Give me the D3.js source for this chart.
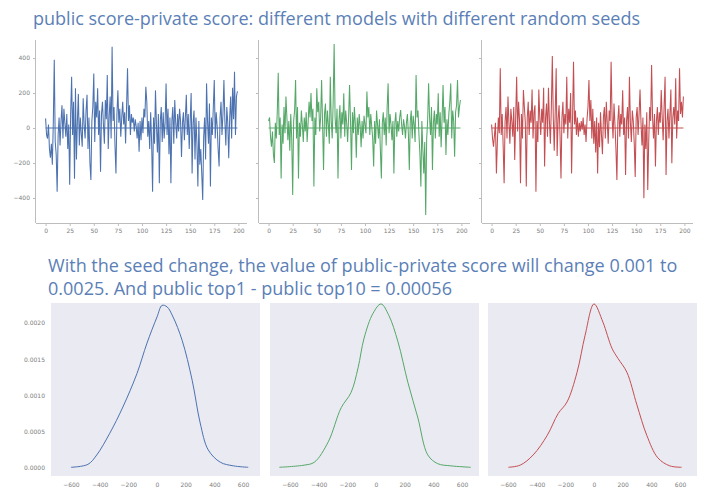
<!DOCTYPE html>
<html>
<head>
<meta charset="utf-8">
<script src="https://cdn.jsdelivr.net/npm/d3@7"></script>
<style>
  body { margin: 0; background: #fff; }
  svg { display: block; }
  .tick text { font-family: "DejaVu Sans", sans-serif; }
</style>
</head>
<body>
<div id="container"></div>
<script>
// public - private score per run, 3 models
var blueDiff = [55,-40,-60,20,-120,-170,-90,-210,30,390,-80,-150,-365,-40,60,-100,40,130,-60,110,
  30,-50,80,-120,20,-325,80,293,-40,150,-290,227,-180,40,195,-100,60,-30,-107,170,
  20,-60,100,190,-120,60,-200,-297,40,120,312,-80,150,60,227,-40,100,-250,80,150,
  20,-90,160,50,303,-120,70,180,-60,465,40,120,-100,-260,80,215,30,110,-50,60,
  150,20,90,-88,120,341,40,130,-40,80,30,60,-20,50,10,-60,30,-135,40,-70,
  60,-30,110,60,236,150,-50,40,-120,90,-80,-364,60,-90,215,20,-140,80,-316,40,
  120,-80,90,-60,30,255,-40,110,-150,60,-316,40,120,-90,160,30,-60,80,-20,110,
  40,-165,30,90,-70,60,190,-40,80,-120,40,200,-260,30,100,-180,60,-90,-335,40,
  -210,-120,-260,-411,-50,60,-180,255,40,-90,140,-335,60,-40,120,274,-60,90,10,-120,
  -220,60,150,-40,80,274,40,-100,120,30,-173,60,180,-60,230,50,322,-40,180,210];
var greenDiff = [40,60,-50,-107,-20,-150,-200,30,-60,90,316,-40,60,-288,20,-90,120,-30,180,60,
  -70,40,-130,80,-60,-383,40,100,274,-60,120,-288,30,-50,100,20,-80,60,-20,90,
  -80,30,150,60,200,40,110,-335,60,-40,227,90,150,-20,60,274,30,-240,80,140,
  -50,100,20,-90,293,40,-60,150,480,60,-30,110,-288,40,130,-60,90,20,198,-50,
  100,30,-80,60,245,40,-240,90,-30,120,20,-170,60,-40,80,10,-110,40,-60,70,
  20,-30,208,60,120,-40,80,10,-60,-220,40,-90,100,20,-60,50,-130,-288,30,90,
  -40,60,-100,120,255,-30,80,20,-70,40,-260,30,90,-50,40,-20,60,103,20,-40,
  50,10,-60,30,80,-30,-240,40,100,-60,70,20,-80,303,60,100,-40,-150,-335,40,
  -120,-260,-80,-497,-60,40,255,60,-40,120,-240,30,100,-60,80,20,198,-50,90,-110,
  60,245,30,120,-154,50,-40,80,150,255,-60,100,40,-164,90,130,274,60,120,160];
var redDiff = [20,-60,-107,-40,30,-260,-80,60,-30,341,-40,80,-100,-316,40,120,-60,180,30,-90,
  110,40,-50,120,-183,60,293,-20,150,40,-316,80,-60,217,120,30,-335,60,150,-40,
  100,30,220,-60,90,130,-364,40,-80,220,60,-40,110,30,230,-220,60,140,-50,230,
  40,-90,120,411,60,-130,90,341,-160,50,130,-40,-288,60,150,-30,80,20,293,-60,
  110,30,200,-260,60,379,20,100,-40,60,-50,30,-20,40,-10,60,-40,20,-80,50,
  120,274,40,160,-60,110,-90,40,-140,60,-260,30,-110,90,-40,-150,60,120,-60,150,
  30,-90,100,40,379,60,-60,140,20,-120,-297,40,130,-50,80,20,215,-40,60,-269,
  40,120,-60,293,30,-80,100,40,-90,-280,60,120,-40,80,220,30,-100,60,-402,20,
  -120,90,-354,-80,120,40,360,60,-60,80,-220,40,120,-40,90,30,217,60,-70,130,
  293,-269,40,110,-60,80,220,-202,60,120,20,284,-60,100,40,341,80,150,60,180];

// kernel density curves of the same scores
var kdeBlueX  = [-600,-482,-420,-329,-238,-140,-70,0,35,70,112,175,245,301,357,441,532,636];
var kdeBlueY  = [0.00001,0.00005,0.00018,0.00048,0.00084,0.0013,0.00172,0.00208,0.00224,0.00222,0.00208,0.00176,0.00121,0.00062,0.00025,0.00008,0.00003,0.00001];
var kdeGreenX = [-674,-500,-430,-333,-243,-174,-125,-83,-21,35,90,153,222,292,361,430,521,660];
var kdeGreenY = [0.00001,0.00004,0.00008,0.00036,0.00083,0.00104,0.00138,0.00179,0.00213,0.00226,0.0021,0.00174,0.00118,0.00069,0.00018,0.00006,0.00003,0.00001];
var kdeRedX   = [-597,-514,-424,-326,-250,-188,-118,-62,0,62,125,167,229,299,368,445,528,611];
var kdeRedY   = [0.00001,0.00004,0.00018,0.00045,0.00075,0.00091,0.00132,0.00183,0.00226,0.00201,0.00165,0.00151,0.00132,0.00087,0.00045,0.00014,0.00003,0.00001];

var topXTicks = [0,25,50,75,100,125,150,175,200];
var topYTicks = [-400,-200,0,200,400];
var kdeXTicks = [-600,-400,-200,0,200,400,600];
var kdeYTicks = [0,0.0005,0.001,0.0015,0.002];

var colors = ["#4c72b0", "#55a868", "#c44e52"];
var title1 = "public score-private score: different models with different random seeds";
var title2 = ["With the seed change, the value of public-private score will change 0.001 to",
              "0.0025. And public top1 - public top10 = 0.00056"];

var width = 720, height = 502;
var svg = d3.select("#container").append("svg")
    .attr("width", width)
    .attr("height", height);

// titles, fitted to the width they take in the picture
function addTitle(txt, x, y, w) {
    var t = svg.append("text")
        .attr("x", x).attr("y", y)
        .attr("fill", "#5b7fb6")
        .style("font-family", "'Open Sans', sans-serif")
        .style("font-size", "16px")
        .text(txt);
    var len = t.node().getComputedTextLength();
    var fs = 16 * w / len;
    t.style("font-size", fs.toFixed(2) + "px");
    return fs;
}
addTitle(title1, 33, 25, 607);
var fs2 = addTitle(title2[0], 48, 272, 630);
svg.append("text")
    .attr("x", 48).attr("y", 295)
    .attr("fill", "#5b7fb6")
    .style("font-family", "'Open Sans', sans-serif")
    .style("font-size", fs2.toFixed(2) + "px")
    .text(title2[1]);

// ---- top row: line plots ----
var topLefts = [36, 259, 482];
var topW = 211, topTop = 40, topBottom = 223;
var series = [blueDiff, greenDiff, redDiff];
var tickGrey = "#7d7d7d";

var yTop = d3.scaleLinear()
    .domain([-543, 503])
    .range([topBottom, topTop]);

series.forEach(function(vals, k) {
    var x = d3.scaleLinear()
        .domain([-9.95, 208.95])
        .range([topLefts[k], topLefts[k] + topW]);

    var g = svg.append("g");

    // bottom axis
    var gx = g.append("g")
        .attr("transform", "translate(0," + topBottom + ")")
        .call(d3.axisBottom(x).tickValues(topXTicks).tickSize(3).tickPadding(3));
    gx.select(".domain").attr("stroke", "#bdbdbd").attr("d", "M" + topLefts[k] + ",0.5H" + (topLefts[k] + topW));
    gx.selectAll(".tick line").attr("stroke", "#bdbdbd");
    gx.selectAll(".tick text").attr("fill", tickGrey).style("font-size", "6px");

    // left axis (labels only on the first panel)
    var gy = g.append("g")
        .attr("transform", "translate(" + topLefts[k] + ",0)")
        .call(d3.axisLeft(yTop).tickValues(topYTicks).tickSize(3).tickPadding(3));
    gy.select(".domain").attr("stroke", "#bdbdbd").attr("d", "M-0.5," + topTop + "V" + topBottom);
    gy.selectAll(".tick line").attr("stroke", "#bdbdbd");
    gy.selectAll(".tick text").attr("fill", tickGrey).style("font-size", "6px");
    if (k > 0) gy.selectAll(".tick text").remove();

    // zero reference line
    g.append("line")
        .attr("x1", x(0)).attr("x2", x(199))
        .attr("y1", yTop(0)).attr("y2", yTop(0))
        .attr("stroke", colors[k])
        .attr("stroke-width", 1);

    var line = d3.line()
        .x(function(d, i) { return x(i); })
        .y(function(d) { return yTop(d); });

    g.append("path")
        .datum(vals)
        .attr("fill", "none")
        .attr("stroke", colors[k])
        .attr("stroke-width", 1.05)
        .attr("d", line);
});

// ---- bottom row: density plots ----
var botLefts = [51, 270, 488];
var botW = 209, botTop = 303, botBottom = 476;
var kdes = [[kdeBlueX, kdeBlueY], [kdeGreenX, kdeGreenY], [kdeRedX, kdeRedY]];

var yBot = d3.scaleLinear()
    .domain([-0.00011, 0.002273])
    .range([botBottom, botTop]);

kdes.forEach(function(kd, k) {
    var x = d3.scaleLinear()
        .domain([-739, 718])
        .range([botLefts[k], botLefts[k] + botW]);

    var g = svg.append("g");

    g.append("rect")
        .attr("x", botLefts[k]).attr("y", botTop)
        .attr("width", botW).attr("height", botBottom - botTop)
        .attr("fill", "#eaeaf2");

    var gx = g.append("g")
        .attr("transform", "translate(0," + botBottom + ")")
        .call(d3.axisBottom(x).tickValues(kdeXTicks).tickSize(0).tickPadding(7));
    gx.select(".domain").remove();
    gx.selectAll(".tick text").attr("fill", tickGrey).style("font-size", "6px");

    if (k === 0) {
        var gy = g.append("g")
            .attr("transform", "translate(" + botLefts[k] + ",0)")
            .call(d3.axisLeft(yBot).tickValues(kdeYTicks).tickSize(0).tickPadding(6)
                .tickFormat(d3.format(".4f")));
        gy.select(".domain").remove();
        gy.selectAll(".tick text").attr("fill", tickGrey).style("font-size", "6px");
    }

    var pts = kd[0].map(function(v, i) { return [v, kd[1][i]]; });
    var line = d3.line()
        .curve(d3.curveCatmullRom.alpha(0.5))
        .x(function(d) { return x(d[0]); })
        .y(function(d) { return yBot(d[1]); });

    g.append("path")
        .datum(pts)
        .attr("fill", "none")
        .attr("stroke", colors[k])
        .attr("stroke-width", 1)
        .attr("d", line);
});
</script>
</body>
</html>
